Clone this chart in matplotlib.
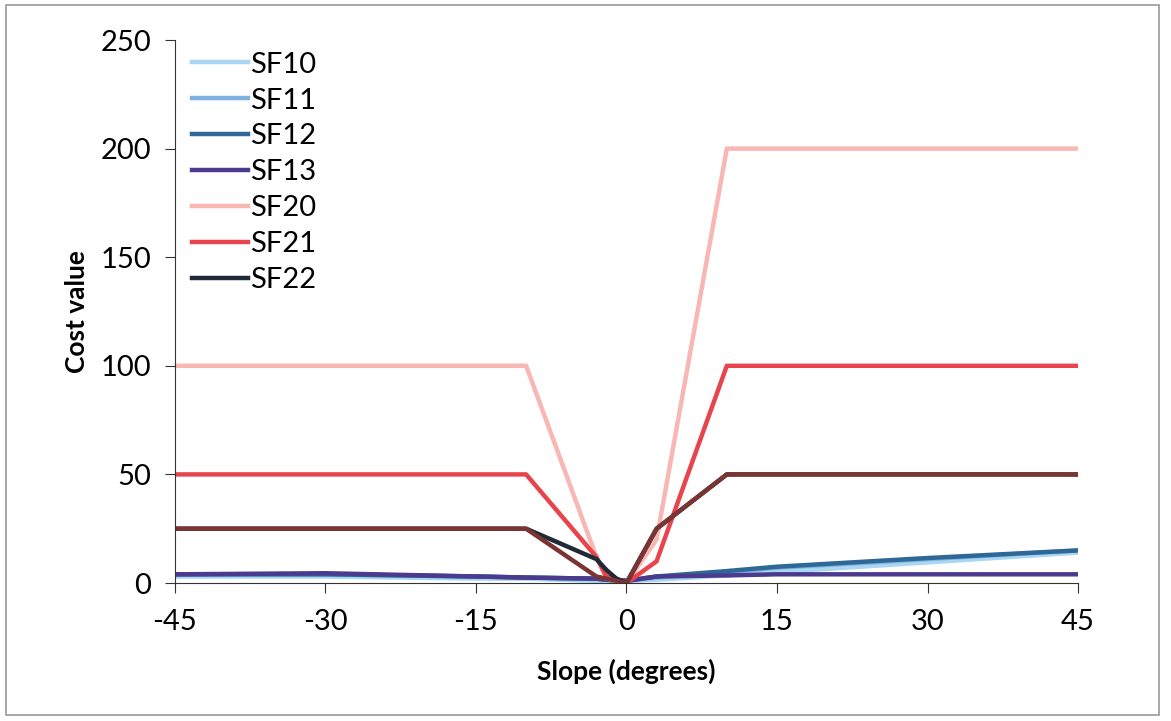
import matplotlib.pyplot as plt
import matplotlib.patches as mpatches

plt.rcParams['font.family'] = ['Lato', 'DejaVu Sans']
plt.rcParams['axes.unicode_minus'] = False

slope = [-45, -30, -15, -10, -3, -2, -1, 0, 3, 10, 15, 30, 45]

sf10 = [3, 3, 2, 2, 1, 1, 1, 1, 1.5, 3.5, 5, 9.5, 14]
sf11 = [4, 4, 3, 2.5, 2, 1.5, 1, 1, 2.5, 5, 7, 11, 15]
sf12 = [4, 4, 3, 2.5, 2, 1.5, 1, 1, 3, 5.5, 7.5, 11.5, 15]
sf13 = [4, 4.5, 3, 2.5, 2, 1.5, 1.5, 1, 3, 3.5, 4, 4, 4]
sf20 = [100, 100, 100, 100, 12, 2, 1, 0, 20, 200, 200, 200, 200]
sf21 = [50, 50, 50, 50, 12, 3, 2, 0, 10, 100, 100, 100, 100]
sf22 = [25, 25, 25, 25, 11, 6, 2, 0, 25, 50, 50, 50, 50]
sf22b = [25, 25, 25, 25, 3, 2, 1, 0, 25, 50, 50, 50, 50]

xticks = [-45, -30, -15, 0, 15, 30, 45]
yticks = [0, 50, 100, 150, 200, 250]

fig = plt.figure(figsize=(11.71, 7.21), dpi=100)
ax = fig.add_axes([0.1494, 0.1914, 0.7712, 0.7531])

lw = 3.2
ax.plot(slope, sf10, color='#a9d6f2', lw=lw, label='SF10')
ax.plot(slope, sf11, color='#7eb2de', lw=lw, label='SF11')
ax.plot(slope, sf12, color='#2f6797', lw=lw, label='SF12')
ax.plot(slope, sf13, color='#4b3a8e', lw=lw, label='SF13')
ax.plot(slope, sf20, color='#f8b7b3', lw=lw, label='SF20')
ax.plot(slope, sf21, color='#e8444e', lw=lw, label='SF21')
ax.plot(slope, sf22, color='#1f2a36', lw=lw, label='SF22')
ax.plot(slope, sf22b, color='#7b3434', lw=lw, label='_nolegend_')

ax.set_xlim(-45, 45)
ax.set_ylim(0, 250)
ax.set_xticks(xticks)
ax.set_yticks(yticks)
ax.tick_params(labelsize=21, length=7, color='#333333', direction='out')
ax.tick_params(axis='x', pad=12)
ax.tick_params(axis='y', pad=10)
ax.spines['top'].set_visible(False)
ax.spines['right'].set_visible(False)
ax.spines['left'].set_color('#333333')
ax.spines['bottom'].set_color('#333333')
ax.set_xlabel('Slope (degrees)', fontsize=19, fontweight='bold', labelpad=17)
ax.set_ylabel('Cost value', fontsize=19, fontweight='bold', labelpad=8)

ax.legend(loc='upper left', bbox_to_anchor=(-0.01, 1.027), frameon=False,
          fontsize=21, handlelength=1.9, handletextpad=0.1, labelspacing=0.34)

fig.patches.append(mpatches.Rectangle((0.005, 0.008), 0.985, 0.985,
                                      transform=fig.transFigure, fill=False,
                                      edgecolor='#999999', lw=1.2))

fig.savefig('out.png', dpi=100)
